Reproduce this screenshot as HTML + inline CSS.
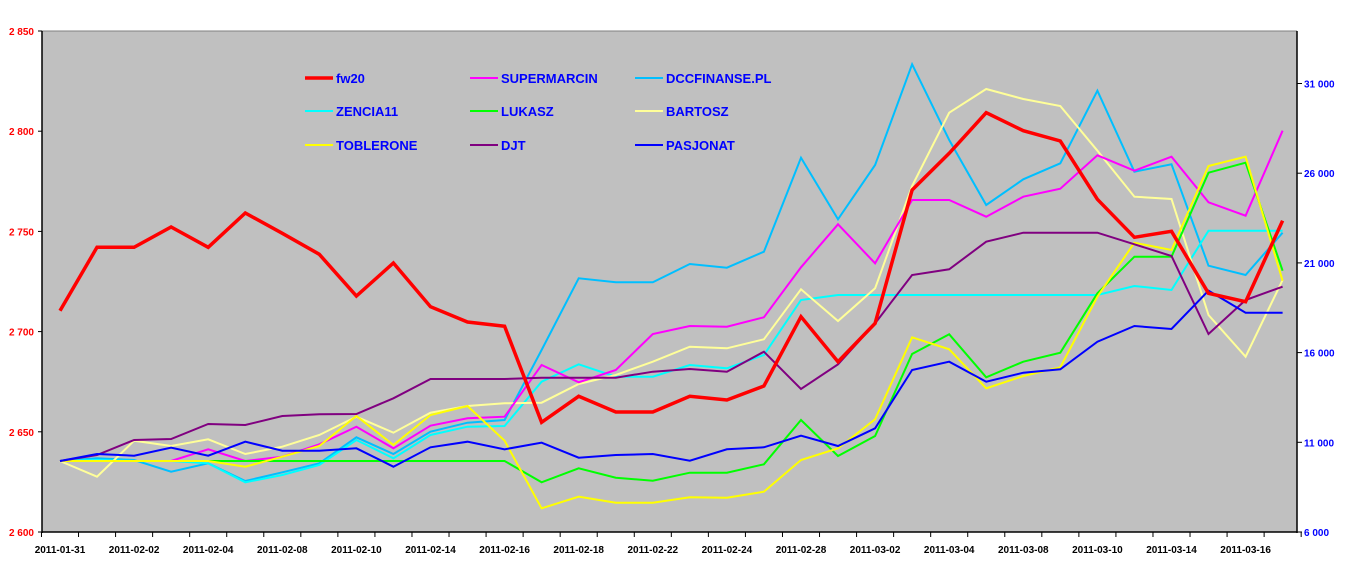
<!DOCTYPE html>
<html><head><meta charset="utf-8">
<style>
html,body{margin:0;padding:0;background:#fff;}
svg{display:block;font-family:"Liberation Sans",Arial,sans-serif;font-weight:bold;}
</style></head>
<body>
<svg id="c" width="1362" height="572" xmlns="http://www.w3.org/2000/svg">
<rect x="0" y="0" width="1362" height="572" fill="#fff"/>
<rect x="42" y="31" width="1255" height="501" fill="#C0C0C0"/>
<line x1="42" y1="31" x2="1297" y2="31" stroke="#808080" stroke-width="1"/>
<g id="ax"></g>
<g id="lines" fill="none" stroke-linejoin="miter"></g>
<g id="leg"></g>
</svg>
<script>
var NS="http://www.w3.org/2000/svg";
function el(t,a,p,txt){var e=document.createElementNS(NS,t);for(var k in a)e.setAttribute(k,a[k]);if(txt!==undefined)e.textContent=txt;p.appendChild(e);return e;}
var ax=document.getElementById('ax');
el('line',{x1:42,y1:31,x2:42,y2:533,stroke:'#000','stroke-width':1.5},ax);
el('line',{x1:1297,y1:31,x2:1297,y2:533,stroke:'#000','stroke-width':1.5},ax);
el('line',{x1:42,y1:532,x2:1297,y2:532,stroke:'#000','stroke-width':1.5},ax);
var lv=['2 600','2 650','2 700','2 750','2 800','2 850'];
for(var i=0;i<6;i++){var y=532-i*100.2;
 el('line',{x1:38,y1:y,x2:42,y2:y,stroke:'#000'},ax);
 el('text',{x:34,y:y+4,'text-anchor':'end','font-size':10,fill:'#FF0000'},ax,lv[i]);}
var rv=['6 000','11 000','16 000','21 000','26 000','31 000'];
for(var i=0;i<6;i++){var y=532-i*89.7;
 el('line',{x1:1297,y1:y,x2:1302,y2:y,stroke:'#000'},ax);
 el('text',{x:1304,y:y+4,'font-size':10,fill:'#0000FF'},ax,rv[i]);}
var dx=37.05,x0=60;
for(var i=0;i<=34;i++){var x=x0-dx/2+i*dx; el('line',{x1:x,y1:532,x2:x,y2:537,stroke:'#000'},ax);}
var dl=['2011-01-31','2011-02-02','2011-02-04','2011-02-08','2011-02-10','2011-02-14','2011-02-16','2011-02-18','2011-02-22','2011-02-24','2011-02-28','2011-03-02','2011-03-04','2011-03-08','2011-03-10','2011-03-14','2011-03-16'];
for(var i=0;i<dl.length;i++){el('text',{x:x0+2*i*dx,y:553,'text-anchor':'middle','font-size':10,fill:'#000'},ax,dl[i]);}
var S=[
['DCCFINANSE.PL','#00BFFF',2,[1293,1285,1290,1325,1300,1353,1327,1300,1222,1272,1205,1178,1170,960,745,757,757,702,713,665,383,568,405,103,330,525,448,400,182,425,403,707,735,608]],
['ZENCIA11','#00FFFF',2,[1293,1290,1293,1293,1300,1357,1335,1305,1230,1285,1215,1190,1188,1055,1003,1040,1040,1005,1015,975,810,795,795,795,795,795,795,795,795,768,780,602,602,602]],
['BARTOSZ','#FFFF99',2,[1293,1340,1232,1248,1228,1272,1250,1215,1160,1208,1148,1128,1120,1118,1062,1035,995,950,955,928,778,873,775,468,248,177,207,228,362,500,507,855,980,750]],
['SUPERMARCIN','#FF00FF',2,[1293,1293,1293,1293,1258,1293,1280,1243,1190,1255,1187,1165,1160,1005,1057,1020,912,888,890,862,712,583,700,510,510,560,500,476,376,422,380,517,557,302]],
['LUKASZ','#00FF00',2,[1293,1293,1293,1293,1293,1293,1293,1293,1293,1293,1293,1293,1293,1357,1315,1343,1352,1328,1328,1303,1170,1278,1218,972,913,1042,995,968,790,680,680,428,398,722]],
['TOBLERONE','#FFFF00',2,[1293,1293,1293,1293,1293,1310,1280,1248,1158,1245,1155,1128,1232,1435,1400,1418,1418,1402,1403,1385,1290,1255,1168,922,958,1075,1038,1012,800,638,660,408,380,752]],
['DJT','#800080',2,[1293,1275,1230,1227,1182,1185,1158,1153,1152,1105,1047,1047,1047,1043,1043,1043,1025,1017,1025,965,1077,1003,880,735,718,635,608,608,608,643,678,912,810,770]],
['PASJONAT','#0000FF',2,[1293,1272,1277,1253,1277,1235,1262,1262,1255,1310,1252,1235,1258,1238,1283,1275,1272,1292,1258,1252,1217,1248,1195,1020,995,1055,1028,1018,935,888,897,782,848,848]],
['fw20','#FF0000',3.5,[842,652,652,591,652,549,610,673,798,699,830,876,889,1177,1099,1146,1146,1099,1110,1068,860,995,880,480,370,248,302,333,508,622,604,790,815,572]]
];
var g=document.getElementById('lines');
S.forEach(function(s){var pts=s[3].map(function(v,i){return (x0+i*dx).toFixed(1)+','+(30+v/3).toFixed(1);}).join(' ');
 el('polyline',{points:pts,stroke:s[1],'stroke-width':s[2]},g);});
var L=[['fw20','#FF0000',3.5,305,78],['SUPERMARCIN','#FF00FF',2,470,78],['DCCFINANSE.PL','#00BFFF',2,635,78],
['ZENCIA11','#00FFFF',2,305,111],['LUKASZ','#00FF00',2,470,111],['BARTOSZ','#FFFF99',2,635,111],
['TOBLERONE','#FFFF00',2,305,145],['DJT','#800080',2,470,145],['PASJONAT','#0000FF',2,635,145]];
var lg=document.getElementById('leg');
L.forEach(function(l){el('line',{x1:l[3],y1:l[4],x2:l[3]+28,y2:l[4],stroke:l[1],'stroke-width':l[2]},lg);
 el('text',{x:l[3]+31,y:l[4]+5,'font-size':13,fill:'#0000FF'},lg,l[0]);});
</script>
</body></html>
